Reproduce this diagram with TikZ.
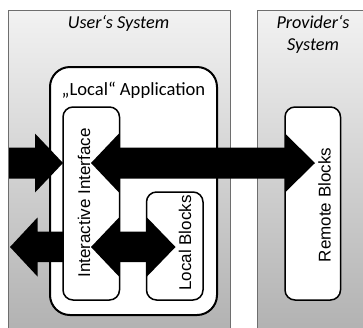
\documentclass[tikz,border=0pt]{standalone}
\usepackage{fontspec}
\setmainfont{Carlito}
\newfontfamily\labfont{Liberation Sans}
\definecolor{systop}{RGB}{242,242,242}
\definecolor{sysbot}{RGB}{176,176,176}
\definecolor{sysline}{RGB}{110,110,110}
\begin{document}
\begin{tikzpicture}[x=1pt,y=-1pt,
  sysbox/.style={draw=sysline,line width=0.8pt,top color=systop,bottom color=sysbot},
  appbox/.style={draw=black,fill=white,line width=2pt,rounded corners=20pt},
  blockbox/.style={draw=black,fill=white,line width=1.5pt,rounded corners=10pt},
  blockarrow/.style={fill=black},
  titletext/.style={font=\itshape\fontsize{18.2}{22}\selectfont,align=center,inner sep=0pt},
  apptext/.style={font=\fontsize{18.6}{22}\selectfont,inner sep=0pt},
  rottext/.style={font=\labfont\fontsize{17}{20}\selectfont,rotate=90,inner sep=0pt}]
\useasboundingbox (0,0) rectangle (363,327);
\clip (0,0) rectangle (363,327);
% system areas
\path[sysbox] (8,10) rectangle (230,340);
\path[sysbox] (257.5,10) rectangle (375,340);
% local application
\path[appbox] (50,67) rectangle (217,315);
% blocks
\path[blockbox] (63,107) rectangle (119.5,300);
\path[blockbox] (146.5,192) rectangle (203,300);
\path[blockbox] (285,107) rectangle (340.5,300);
% arrows
\fill[blockarrow] (91,163) -- (119,133.5) -- (119,147.5) -- (285,147.5) -- (285,133.5)
  -- (315,163) -- (285,192.5) -- (285,178.5) -- (119,178.5) -- (119,192.5) -- cycle;
\fill[blockarrow] (9,147.5) -- (35,147.5) -- (35,133.5) -- (63,163) -- (35,192.5)
  -- (35,178.5) -- (9,178.5) -- cycle;
\fill[blockarrow] (10,247) -- (37.5,217.5) -- (37.5,231.5) -- (63,231.5) -- (63,262)
  -- (37.5,262) -- (37.5,276.5) -- cycle;
\fill[blockarrow] (91,247) -- (119,217.5) -- (119,231.5) -- (147,231.5) -- (147,217.5)
  -- (175.5,247) -- (147,276.5) -- (147,262) -- (119,262) -- (119,276.5) -- cycle;
% texts
\node[titletext] (user) at (118.5,23) {User‘s System};
\node[titletext] (prov) at (313,34) {Provider‘s\\System};
\node[apptext] (app) at (133.5,90) {„Local“ Application};
\node[rottext] (iface) at (84,203) {Interactive Interface};
\node[rottext] (local) at (185,243) {Local Blocks};
\node[rottext] (remote) at (324.5,205) {Remote Blocks};
\end{tikzpicture}
\end{document}
